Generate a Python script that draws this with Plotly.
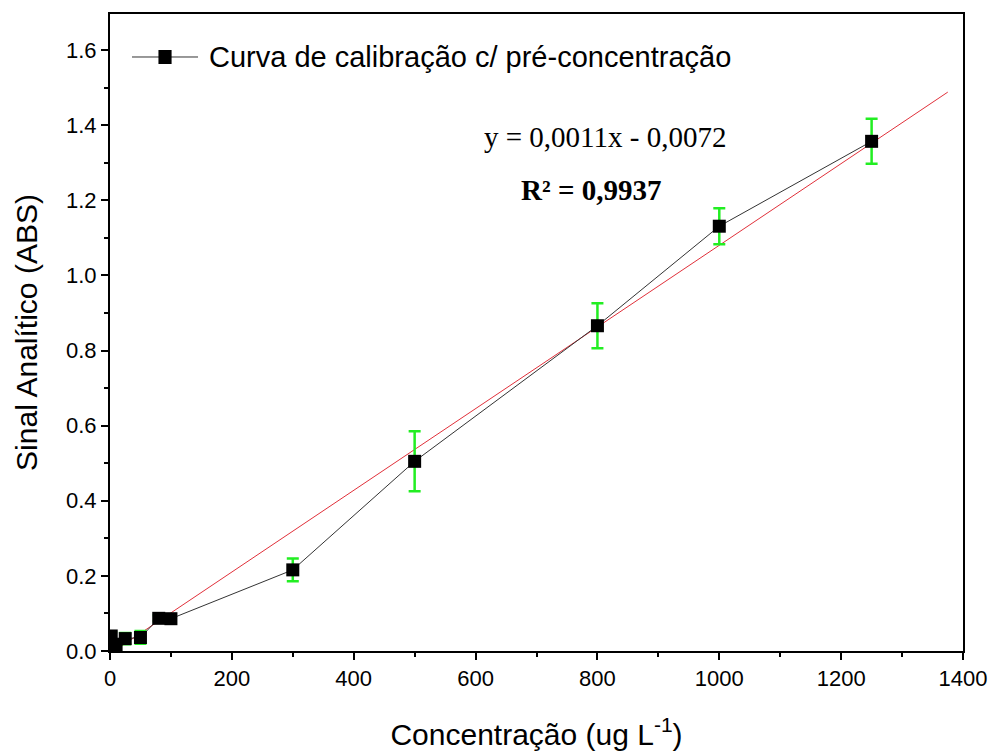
import plotly.graph_objects as go

conc = [2, 5, 10, 25, 50, 80, 100, 300, 500, 800, 1000, 1250]
signal = [0.040, 0.018, 0.008, 0.033, 0.036, 0.087, 0.086, 0.216, 0.505, 0.866, 1.131, 1.357]
err = [0.010, 0.010, 0.008, 0.015, 0.017, 0.008, 0.008, 0.030, 0.080, 0.060, 0.048, 0.060]

fit_x = [0, 1375]
fit_y = [-0.0072, 1.488]

series_name = "Curva de calibração c/ pré-concentração"
eq_text = "y = 0,0011x - 0,0072"
r2_text = "<b>R² = 0,9937</b>"

fig = go.Figure()
fig.add_trace(go.Scatter(
    x=fit_x, y=fit_y, mode="lines",
    line=dict(color="#e0303a", width=1), showlegend=False, hoverinfo="skip"))
fig.add_trace(go.Scatter(
    x=conc, y=signal, mode="lines+markers", name=series_name,
    line=dict(color="#333333", width=1),
    marker=dict(symbol="square", size=13, color="black"),
    error_y=dict(type="data", array=err, visible=True, color="#22ee22",
                 thickness=2.5, width=6),
    showlegend=False))

# custom legend (line sample with marker, then label)
fig.add_shape(type="line", xref="paper", yref="paper", x0=0.0258, x1=0.1032,
              y0=0.9325, y1=0.9325, line=dict(color="#333333", width=1))
fig.add_shape(type="rect", xref="paper", yref="paper", x0=0.0568, x1=0.0722,
              y0=0.9215, y1=0.9435, line=dict(width=0), fillcolor="black")
fig.add_annotation(x=0.1137, y=0.9325, xref="paper", yref="paper", text=series_name,
                   showarrow=False, xanchor="left", yanchor="middle",
                   font=dict(family="Liberation Sans", size=29, color="black"))

fig.add_annotation(x=812, y=1.368, xref="x", yref="y", text=eq_text, showarrow=False,
                   font=dict(family="Liberation Serif", size=29, color="black"))
fig.add_annotation(x=789, y=1.227, xref="x", yref="y", text=r2_text, showarrow=False,
                   font=dict(family="Liberation Serif", size=29, color="black"))

axis_common = dict(showline=True, linecolor="black", linewidth=2, mirror=True,
                   showgrid=False, zeroline=False, ticks="outside", ticklen=7,
                   tickwidth=2, tickcolor="black", automargin=False,
                   tickfont=dict(family="Liberation Sans", size=22, color="black"),
                   minor=dict(ticks="outside", ticklen=4, tickwidth=2, tickcolor="black"))

fig.update_xaxes(range=[0, 1400], dtick=200, minor_dtick=100,
                 title=dict(text="Concentração (ug L<sup>-1</sup>)", standoff=34,
                            font=dict(family="Liberation Sans", size=30, color="black")),
                 **axis_common)
fig.update_yaxes(range=[0, 1.696], dtick=0.2, minor_dtick=0.1, tickformat=".1f",
                 title=dict(text="Sinal Analítico (ABS)", standoff=20,
                            font=dict(family="Liberation Sans", size=30, color="black")),
                 **axis_common)

fig.update_layout(
    width=992, height=751,
    margin=dict(l=110, r=29, t=14, b=100),
    paper_bgcolor="white", plot_bgcolor="white",
    showlegend=False,
)

fig.write_html("out.html")
